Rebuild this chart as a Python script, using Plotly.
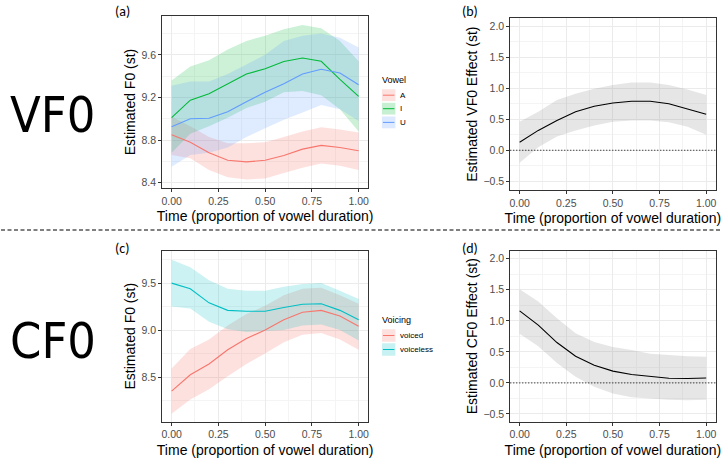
import plotly.graph_objects as go

W, H = 723, 461

# ---------------- data ----------------
t = [0.0, 0.1, 0.2, 0.3, 0.4, 0.5, 0.6, 0.7, 0.8, 0.9, 1.0]

# (a) Vowel
a_A = [8.85, 8.78, 8.68, 8.61, 8.595, 8.61, 8.655, 8.715, 8.75, 8.73, 8.70]
a_A_hi = [9.02, 8.93, 8.83, 8.77, 8.77, 8.78, 8.83, 8.88, 8.92, 8.90, 8.87]
a_A_lo = [8.66, 8.63, 8.52, 8.45, 8.43, 8.44, 8.49, 8.54, 8.58, 8.56, 8.52]
a_I = [9.01, 9.175, 9.235, 9.33, 9.42, 9.47, 9.537, 9.57, 9.54, 9.37, 9.21]
a_I_hi = [9.36, 9.49, 9.55, 9.65, 9.73, 9.78, 9.84, 9.88, 9.85, 9.73, 9.54]
a_I_lo = [8.68, 8.86, 8.93, 9.01, 9.10, 9.16, 9.25, 9.26, 9.22, 9.09, 8.88]
a_U = [8.925, 9.0, 9.005, 9.065, 9.16, 9.25, 9.33, 9.42, 9.465, 9.43, 9.32]
a_U_hi = [9.31, 9.35, 9.35, 9.42, 9.51, 9.60, 9.73, 9.78, 9.80, 9.76, 9.67]
a_U_lo = [8.55, 8.66, 8.68, 8.73, 8.83, 8.91, 8.99, 9.06, 9.13, 9.09, 8.98]

# (b) VF0 effect
b_eff = [0.13, 0.32, 0.48, 0.62, 0.71, 0.76, 0.79, 0.79, 0.75, 0.67, 0.58]
b_hi = [0.46, 0.62, 0.81, 0.91, 0.99, 1.05, 1.09, 1.09, 1.05, 0.98, 0.89]
b_lo = [-0.20, 0.05, 0.22, 0.32, 0.40, 0.46, 0.48, 0.48, 0.45, 0.38, 0.25]

# (c) Voicing
c_vd = [8.35, 8.525, 8.64, 8.79, 8.91, 9.0, 9.11, 9.19, 9.21, 9.15, 9.04]
c_vd_hi = [8.59, 8.80, 8.90, 9.05, 9.17, 9.26, 9.37, 9.44, 9.45, 9.37, 9.28]
c_vd_lo = [8.11, 8.26, 8.37, 8.51, 8.64, 8.75, 8.87, 8.95, 8.97, 8.90, 8.79]
c_vl = [9.50, 9.44, 9.29, 9.21, 9.20, 9.20, 9.24, 9.275, 9.28, 9.21, 9.11]
c_vl_hi = [9.75, 9.67, 9.53, 9.44, 9.42, 9.42, 9.46, 9.49, 9.50, 9.42, 9.33]
c_vl_lo = [9.25, 9.23, 9.09, 9.01, 8.98, 8.99, 9.00, 9.05, 9.06, 9.00, 8.89]

# (d) CF0 effect
d_eff = [1.16, 0.93, 0.65, 0.43, 0.285, 0.19, 0.135, 0.10, 0.075, 0.07, 0.08]
d_hi = [1.51, 1.31, 1.04, 0.80, 0.66, 0.58, 0.53, 0.47, 0.45, 0.43, 0.42]
d_lo = [0.79, 0.59, 0.32, 0.10, -0.06, -0.17, -0.23, -0.25, -0.27, -0.28, -0.27]

x_ticks = [0.0, 0.25, 0.5, 0.75, 1.0]
x_ticklabels = ["0.00", "0.25", "0.50", "0.75", "1.00"]
ya_ticks = [8.4, 8.8, 9.2, 9.6]
yc_ticks = [8.5, 9.0, 9.5]
yeff_ticks = [-0.5, 0.0, 0.5, 1.0, 1.5, 2.0]

vowel_names = ["A", "I", "U"]
voicing_names = ["voiced", "voiceless"]

RED, GREEN, BLUE, CYAN = "#F8766D", "#00BA38", "#619CFF", "#00BFC4"


def rgba(hexc, a):
    h = hexc.lstrip("#")
    r, g, b = int(h[0:2], 16), int(h[2:4], 16), int(h[4:6], 16)
    return f"rgba({r},{g},{b},{a})"


fig = go.Figure()


def ribbon(lo, hi, color, alpha, xa, ya):
    fig.add_trace(go.Scatter(
        x=t + t[::-1], y=hi + lo[::-1], fill="toself", mode="none",
        fillcolor=rgba(color, alpha), hoverinfo="skip", showlegend=False,
        xaxis=xa, yaxis=ya))


def line(y, color, xa, ya, name):
    fig.add_trace(go.Scatter(
        x=t, y=y, mode="lines", line=dict(color=color, width=1.1),
        name=name, showlegend=False, xaxis=xa, yaxis=ya))


# (a)
ribbon(a_A_lo, a_A_hi, RED, 0.22, "x", "y")
ribbon(a_I_lo, a_I_hi, GREEN, 0.2, "x", "y")
ribbon(a_U_lo, a_U_hi, BLUE, 0.2, "x", "y")
line(a_A, RED, "x", "y", "A")
line(a_I, GREEN, "x", "y", "I")
line(a_U, BLUE, "x", "y", "U")

# (b)
ribbon(b_lo, b_hi, "#808080", 0.2, "x2", "y2")
line(b_eff, "#000000", "x2", "y2", "VF0")

# (c)
ribbon(c_vd_lo, c_vd_hi, RED, 0.22, "x3", "y3")
ribbon(c_vl_lo, c_vl_hi, CYAN, 0.2, "x3", "y3")
line(c_vd, RED, "x3", "y3", "voiced")
line(c_vl, CYAN, "x3", "y3", "voiceless")

# (d)
ribbon(d_lo, d_hi, "#808080", 0.2, "x4", "y4")
line(d_eff, "#000000", "x4", "y4", "CF0")

FONT = "Liberation Sans, Arial, sans-serif"
TICKFONT = dict(family=FONT, size=10.5, color="#4D4D4D")
TITLEFONT = dict(family=FONT, size=14, color="#000000")


def px_x(p):
    return p / W


def px_y(p):
    return 1 - p / H


def xax(dom, anchor):
    return dict(domain=dom, anchor=anchor, range=[-0.05, 1.05],
                tickvals=x_ticks, ticktext=x_ticklabels, tickfont=TICKFONT,
                ticks="outside", ticklen=3, tickcolor="#333333",
                showline=True, linecolor="#333333", linewidth=1, mirror=True,
                showgrid=True, gridcolor="#EBEBEB", gridwidth=1, zeroline=False,
                minor=dict(tickvals=[0.125, 0.375, 0.625, 0.875], showgrid=True,
                           gridcolor="#F4F4F4", gridwidth=0.6, ticks=""),
                title=dict(text="Time (proportion of vowel duration)", font=TITLEFONT, standoff=5))


def yax(dom, anchor, rng, ticks, minor, title, labels):
    return dict(domain=dom, anchor=anchor, range=rng,
                tickvals=ticks, ticktext=labels, tickfont=TICKFONT,
                ticks="outside", ticklen=3, tickcolor="#333333",
                showline=True, linecolor="#333333", linewidth=1, mirror=True,
                showgrid=True, gridcolor="#EBEBEB", gridwidth=1, zeroline=False,
                minor=dict(tickvals=minor, showgrid=True, gridcolor="#F4F4F4",
                           gridwidth=0.6, ticks=""),
                title=dict(text=title, font=TITLEFONT, standoff=2))


def fmt(vals):
    return [("\u2212" if v < 0 else "") + f"{abs(v):.1f}" for v in vals]


xa_dom = [px_x(161.7), px_x(368.0)]
xb_dom = [px_x(510.7), px_x(716.5)]
ytop_dom_a = [px_y(188.0), px_y(16.0)]
ytop_dom_b = [px_y(190.0), px_y(18.3)]
ybot_dom = [px_y(421.7), px_y(250.7)]

fig.update_layout(
    width=W, height=H, margin=dict(l=0, r=0, t=0, b=0),
    paper_bgcolor="white", plot_bgcolor="white", showlegend=False,
    xaxis=xax(xa_dom, "y"),
    yaxis=yax(ytop_dom_a, "x", [8.35, 9.965], ya_ticks, [8.6, 9.0, 9.4, 9.8],
              "Estimated F0 (st)", fmt(ya_ticks)),
    xaxis2=xax(xb_dom, "y2"),
    yaxis2=yax(ytop_dom_b, "x2", [-0.64, 2.125], yeff_ticks, [-0.25, 0.25, 0.75, 1.25, 1.75],
               "Estimated VF0 Effect (st)", fmt(yeff_ticks)),
    xaxis3=xax(xa_dom, "y3"),
    yaxis3=yax(ybot_dom, "x3", [8.025, 9.845], yc_ticks, [8.25, 8.75, 9.25, 9.75],
               "Estimated F0 (st)", fmt(yc_ticks)),
    xaxis4=xax(xb_dom, "y4"),
    yaxis4=yax(ybot_dom, "x4", [-0.625, 2.13], yeff_ticks, [-0.25, 0.25, 0.75, 1.25, 1.75],
               "Estimated CF0 Effect (st)", fmt(yeff_ticks)),
)

shapes = []
# dotted zero lines
for xr, yr in (("x2 domain", "y2"), ("x4 domain", "y4")):
    shapes.append(dict(type="line", xref=xr, yref=yr, x0=0, x1=1, y0=0, y1=0,
                       line=dict(color="#000000", width=1, dash="1px,2px")))
# dashed separator
shapes.append(dict(type="line", xref="paper", yref="paper", x0=0, x1=1,
                   y0=px_y(230), y1=px_y(230),
                   line=dict(color="#000000", width=1, dash="4px,2.5px")))

annotations = []


def txt(x, y, s, size, xanchor="left", family=FONT, color="#000000"):
    annotations.append(dict(x=px_x(x), y=px_y(y), xref="paper", yref="paper", text=s,
                            showarrow=False, xanchor=xanchor, yanchor="middle",
                            font=dict(family=family, size=size, color=color)))


LETTER = "Carlito, Calibri, Liberation Sans, sans-serif"
txt(112, 12, "(a)", 14, family=LETTER)
txt(460, 12, "(b)", 14, family=LETTER)
txt(112, 248, "(c)", 14, family=LETTER)
txt(460, 248, "(d)", 14, family=LETTER)

BIG = "Liberation Sans Narrow, DejaVu Sans Condensed, Carlito, sans-serif"
txt(7, 115, "VF0", 50, family=BIG)
txt(7, 341, "CF0", 50, family=BIG)


def legend(title, title_y, names, colors, tops, h):
    txt(380, title_y, title, 9)
    for nm, col, top in zip(names, colors, tops):
        shapes.append(dict(type="rect", xref="paper", yref="paper",
                           x0=px_x(382), x1=px_x(395.5), y0=px_y(top + h), y1=px_y(top),
                           fillcolor=rgba(col, 0.22), line=dict(width=0)))
        mid = top + h / 2
        shapes.append(dict(type="line", xref="paper", yref="paper",
                           x0=px_x(383), x1=px_x(394.5), y0=px_y(mid), y1=px_y(mid),
                           line=dict(color=col, width=1)))
        txt(398.5, mid, nm, 8)


legend("Vowel", 80, vowel_names, [RED, GREEN, BLUE], [89.3, 102.8, 116.5], 11.8)
legend("Voicing", 320, voicing_names, [RED, CYAN], [329.3, 343.3], 12.4)

fig.update_layout(shapes=shapes, annotations=annotations)
fig.write_html("out.html")
